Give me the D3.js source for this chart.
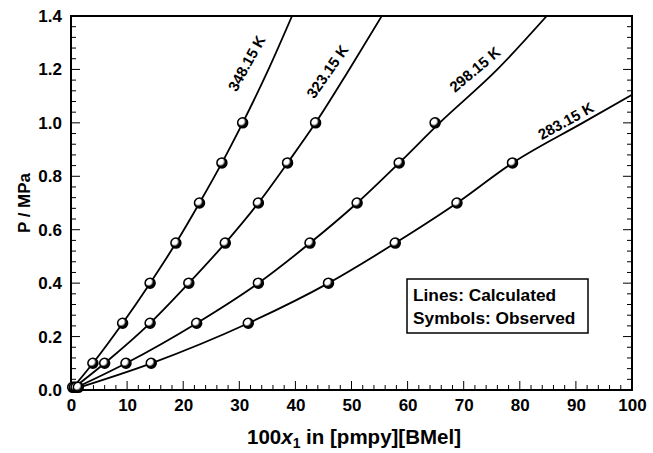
<!DOCTYPE html>
<html><head><meta charset="utf-8">
<script src="https://cdn.jsdelivr.net/npm/d3@7"></script>
<style>body{margin:0;background:#fff}</style>
</head><body>
<svg id="c" width="653" height="453"></svg>
<script>
// ---- data ----
const seriesNames = ["348.15 K", "323.15 K", "298.15 K", "283.15 K"];
// observed (symbols)
const obsP = [0.01, 0.1, 0.25, 0.4, 0.55, 0.7, 0.85, 1.0];
const obs348 = [0.3, 3.9, 9.2, 14.1, 18.7, 22.9, 26.9, 30.6];
const obs323 = [0.6, 6.0, 14.1, 21.0, 27.5, 33.4, 38.6, 43.6];
const obs298 = [0.9, 9.8, 22.4, 33.4, 42.6, 51.0, 58.5, 64.9];
const obs283 = [1.3, 14.3, 31.6, 45.9, 57.8, 68.8, 78.7];
// calculated (lines)
const calcP = [0, 0.1, 0.25, 0.4, 0.55, 0.7, 0.85, 1.0, 1.2, 1.4];
const calc348 = [0, 3.9, 9.2, 14.1, 18.7, 22.9, 26.9, 30.6, 35.2, 39.4];
const calc323 = [0, 6.0, 14.1, 21.0, 27.5, 33.4, 38.6, 43.6, 49.6, 55.4];
const calc298 = [0, 9.8, 22.4, 33.4, 42.6, 51.0, 58.5, 65.7, 76.0, 84.8];
const calc283P = [0, 0.1, 0.25, 0.4, 0.55, 0.7, 0.85, 1.0, 1.105];
const calc283 = [0, 14.3, 31.6, 45.9, 57.8, 68.8, 78.7, 91.2, 100];
// curve label anchor (data coords)
const labelX = [31.3, 45.7, 72.0, 88.2];
const labelP = [1.223, 1.192, 1.20, 1.007];
const labelAngle = [-61, -55, -40, -29];
// ticks
const xTicks = [0, 10, 20, 30, 40, 50, 60, 70, 80, 90, 100];
const yTicks = [0.0, 0.2, 0.4, 0.6, 0.8, 1.0, 1.2, 1.4];
const legendLines = ["Lines: Calculated", "Symbols: Observed"];

// ---- layout ----
const L = 71, R = 632, T = 16, B = 390;
const FONT = "Liberation Sans, Arial, sans-serif";
const svg = d3.select("#c");
const x = d3.scaleLinear().domain([0, 100]).range([L, R]);
const y = d3.scaleLinear().domain([0, 1.4]).range([B, T]);

const defs = svg.append("defs");
defs.append("clipPath").attr("id", "clip").append("rect")
  .attr("x", L).attr("y", T).attr("width", R - L).attr("height", B - T);
const g = defs.append("radialGradient").attr("id", "ball")
  .attr("cx", "0.38").attr("cy", "0.38").attr("r", "0.62")
  .attr("fx", "0.32").attr("fy", "0.32");
g.append("stop").attr("offset", "0").attr("stop-color", "#fff");
g.append("stop").attr("offset", "0.45").attr("stop-color", "#fff");
g.append("stop").attr("offset", "0.75").attr("stop-color", "#000");
g.append("stop").attr("offset", "1").attr("stop-color", "#000");

// minor/major ticks
const xMinor = d3.range(0, 100.001, 2);
const yMinor = d3.range(0, 1.4001, 0.04);
const tickG = svg.append("g").attr("stroke", "#000").attr("stroke-width", 1);
xMinor.forEach(v => {
  const major = Math.round(v) % 10 === 0;
  tickG.append("line").attr("x1", x(v)).attr("x2", x(v))
    .attr("y1", B).attr("y2", B - (major ? 9 : 5));
});
yMinor.forEach(v => {
  const r = Math.round(v * 100);
  const major = r % 20 === 0;
  const len = major ? 9 : 5;
  tickG.append("line").attr("x1", L).attr("x2", L + len).attr("y1", y(v)).attr("y2", y(v));
  tickG.append("line").attr("x1", R).attr("x2", R - len).attr("y1", y(v)).attr("y2", y(v));
});

// axes with d3 for labels
const xAxis = d3.axisBottom(x).tickValues(xTicks).tickSize(0).tickPadding(9).tickFormat(d3.format("d"));
const yAxis = d3.axisLeft(y).tickValues(yTicks).tickSize(0).tickPadding(9).tickFormat(d3.format(".1f"));
const xa = svg.append("g").attr("transform", `translate(0,${B})`).call(xAxis);
const ya = svg.append("g").attr("transform", `translate(${L},0)`).call(yAxis);
[xa, ya].forEach(a => {
  a.select(".domain").remove();
  a.selectAll("text").attr("font-family", FONT)
    .attr("font-weight", "bold").attr("font-size", 17).attr("fill", "#000");
});

// frame
svg.append("rect").attr("x", L).attr("y", T).attr("width", R - L).attr("height", B - T)
  .attr("fill", "none").attr("stroke", "#000").attr("stroke-width", 2);

// lines
const calcSets = [
  calcP.map((p, i) => [calc348[i], p]),
  calcP.map((p, i) => [calc323[i], p]),
  calcP.map((p, i) => [calc298[i], p]),
  calc283P.map((p, i) => [calc283[i], p])
];
const line = d3.line().x(d => x(d[0])).y(d => y(d[1])).curve(d3.curveMonotoneX);
svg.append("g").attr("clip-path", "url(#clip)").selectAll("path").data(calcSets).join("path")
  .attr("d", line).attr("fill", "none").attr("stroke", "#000").attr("stroke-width", 1.8);

// symbols
const obsSets = [obs348, obs323, obs298, obs283].map(arr => arr.map((v, i) => [v, obsP[i]]));
svg.append("g").selectAll("g").data(obsSets).join("g")
  .selectAll("circle").data(d => d).join("circle")
  .attr("cx", d => x(d[0])).attr("cy", d => y(d[1])).attr("r", 5)
  .attr("fill", "url(#ball)").attr("stroke", "#000").attr("stroke-width", 1.5);

// curve labels
svg.append("g").selectAll("text").data(seriesNames).join("text")
  .attr("transform", (d, i) => `translate(${x(labelX[i])},${y(labelP[i])}) rotate(${labelAngle[i]})`)
  .attr("text-anchor", "middle").attr("dy", "0.35em")
  .attr("font-family", FONT).attr("font-weight", "bold")
  .attr("font-size", 15).text(d => d);

// legend
svg.append("rect").attr("x", 407).attr("y", 279).attr("width", 181).attr("height", 54)
  .attr("fill", "#fff").attr("stroke", "#000").attr("stroke-width", 1.5);
svg.append("g").selectAll("text").data(legendLines).join("text")
  .attr("x", 413).attr("y", (d, i) => 301 + i * 23)
  .attr("font-family", FONT).attr("font-weight", "bold")
  .attr("font-size", 17.3).text(d => d);

// axis titles
svg.append("text").attr("transform", `translate(30,${(T + B) / 2}) rotate(-90)`)
  .attr("text-anchor", "middle").attr("font-family", FONT)
  .attr("font-weight", "bold").attr("font-size", 17).text("P / MPa");
const xt = svg.append("text").attr("x", 354).attr("y", 444)
  .attr("text-anchor", "middle").attr("font-family", FONT)
  .attr("font-weight", "bold").attr("font-size", 20.5);
xt.append("tspan").text("100");
xt.append("tspan").attr("font-style", "italic").text("x");
xt.append("tspan").attr("font-size", 14).attr("dy", 4).text("1");
xt.append("tspan").attr("dy", -4).text(" in [pmpy][BMel]");
</script>
</body></html>
